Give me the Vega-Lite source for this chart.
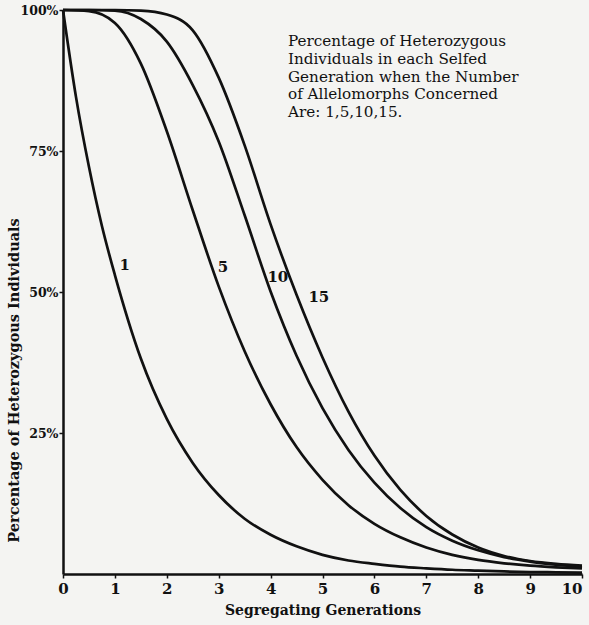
{
  "$schema": "https://vega.github.io/schema/vega-lite/v6.json",
  "autosize": "none",
  "width": 519,
  "height": 564,
  "padding": {"left": 63, "top": 10, "right": 7, "bottom": 51},
  "background": "#f4f4f2",
  "config": {"view": {"stroke": null}},
  "datasets": {
    "curves": [
      {"n": "1", "g": 0, "p": 100}, {"n": "1", "g": 0.25, "p": 84.6}, {"n": "1", "g": 0.5, "p": 72.2}, {"n": "1", "g": 0.75, "p": 61.7},
      {"n": "1", "g": 1, "p": 53}, {"n": "1", "g": 1.5, "p": 38.2}, {"n": "1", "g": 2, "p": 27.5}, {"n": "1", "g": 2.5, "p": 19.7},
      {"n": "1", "g": 3, "p": 14}, {"n": "1", "g": 3.5, "p": 9.8}, {"n": "1", "g": 4, "p": 6.95}, {"n": "1", "g": 4.5, "p": 4.9},
      {"n": "1", "g": 5, "p": 3.4}, {"n": "1", "g": 5.5, "p": 2.4}, {"n": "1", "g": 6, "p": 1.8}, {"n": "1", "g": 6.5, "p": 1.3},
      {"n": "1", "g": 7, "p": 1.0}, {"n": "1", "g": 7.5, "p": 0.75}, {"n": "1", "g": 8, "p": 0.6}, {"n": "1", "g": 8.5, "p": 0.45},
      {"n": "1", "g": 9, "p": 0.35}, {"n": "1", "g": 9.5, "p": 0.3}, {"n": "1", "g": 10, "p": 0.25},
      {"n": "5", "g": 0, "p": 100}, {"n": "5", "g": 0.5, "p": 99.8}, {"n": "5", "g": 1, "p": 97.7}, {"n": "5", "g": 1.5, "p": 90.5},
      {"n": "5", "g": 2, "p": 78.5}, {"n": "5", "g": 2.5, "p": 64.5}, {"n": "5", "g": 3, "p": 51.0}, {"n": "5", "g": 3.5, "p": 39.5},
      {"n": "5", "g": 4, "p": 30.1}, {"n": "5", "g": 4.5, "p": 22.5}, {"n": "5", "g": 5, "p": 16.7}, {"n": "5", "g": 5.5, "p": 12.2},
      {"n": "5", "g": 6, "p": 8.9}, {"n": "5", "g": 6.5, "p": 6.5}, {"n": "5", "g": 7, "p": 4.7}, {"n": "5", "g": 7.5, "p": 3.4},
      {"n": "5", "g": 8, "p": 2.5}, {"n": "5", "g": 8.5, "p": 1.9}, {"n": "5", "g": 9, "p": 1.47}, {"n": "5", "g": 9.5, "p": 1.19},
      {"n": "5", "g": 10, "p": 0.99},
      {"n": "10", "g": 0, "p": 100}, {"n": "10", "g": 0.5, "p": 100}, {"n": "10", "g": 1, "p": 99.9}, {"n": "10", "g": 1.5, "p": 98.4},
      {"n": "10", "g": 2, "p": 94.4}, {"n": "10", "g": 2.5, "p": 86.7}, {"n": "10", "g": 3, "p": 76.7}, {"n": "10", "g": 3.5, "p": 63.6},
      {"n": "10", "g": 4, "p": 50.1}, {"n": "10", "g": 4.5, "p": 38.7}, {"n": "10", "g": 5, "p": 29.4}, {"n": "10", "g": 5.5, "p": 22.0},
      {"n": "10", "g": 6, "p": 16.2}, {"n": "10", "g": 6.5, "p": 11.7}, {"n": "10", "g": 7, "p": 8.3}, {"n": "10", "g": 7.5, "p": 5.9},
      {"n": "10", "g": 8, "p": 4.2}, {"n": "10", "g": 8.5, "p": 3.0}, {"n": "10", "g": 9, "p": 2.2}, {"n": "10", "g": 9.5, "p": 1.65},
      {"n": "10", "g": 10, "p": 1.22},
      {"n": "15", "g": 0, "p": 100}, {"n": "15", "g": 0.5, "p": 100}, {"n": "15", "g": 1, "p": 100}, {"n": "15", "g": 1.5, "p": 99.9},
      {"n": "15", "g": 2, "p": 99.2}, {"n": "15", "g": 2.5, "p": 96.4}, {"n": "15", "g": 3, "p": 88.0}, {"n": "15", "g": 3.5, "p": 76.0},
      {"n": "15", "g": 4, "p": 62.0}, {"n": "15", "g": 4.5, "p": 49.5}, {"n": "15", "g": 5, "p": 38.4}, {"n": "15", "g": 5.5, "p": 28.8},
      {"n": "15", "g": 6, "p": 21.0}, {"n": "15", "g": 6.5, "p": 14.9}, {"n": "15", "g": 7, "p": 10.3}, {"n": "15", "g": 7.5, "p": 7.0},
      {"n": "15", "g": 8, "p": 4.7}, {"n": "15", "g": 8.5, "p": 3.2}, {"n": "15", "g": 9, "p": 2.3}, {"n": "15", "g": 9.5, "p": 1.8},
      {"n": "15", "g": 10, "p": 1.5}
    ],
    "labels": [
      {"label": "1", "g": 1.19, "p": 54.8},
      {"label": "5", "g": 3.08, "p": 54.4},
      {"label": "10", "g": 4.14, "p": 52.7},
      {"label": "15", "g": 4.93, "p": 49.1}
    ],
    "note": [
      {"text": "Percentage of Heterozygous\nIndividuals in each Selfed\nGeneration when the Number\nof Allelomorphs Concerned\nAre: 1,5,10,15.", "g": 4.335, "p": 93.6}
    ]
  },
  "layer": [
    {
      "data": {"name": "curves"},
      "mark": {"type": "line", "interpolate": "monotone", "color": "#111111", "strokeWidth": 2.7},
      "encoding": {
        "x": {
          "field": "g", "type": "quantitative",
          "scale": {"domain": [0, 10], "nice": false},
          "axis": {
            "title": "Segregating Generations",
            "values": [0, 1, 2, 3, 4, 5, 6, 7, 8, 9, 10],
            "grid": false,
            "domainColor": "#111111", "domainWidth": 2.5,
            "tickColor": "#111111", "tickSize": 4, "tickWidth": 1.5,
            "labelFont": "DejaVu Serif", "labelFontWeight": "bold", "labelFontSize": 15, "labelColor": "#111111",
            "labelPadding": 3,
            "labelAlign": {"condition": {"test": "datum.value == 10", "value": "right"}, "value": "center"},
            "titleFont": "DejaVu Serif", "titleFontWeight": "bold", "titleFontSize": 14, "titleColor": "#111111",
            "titleY": 36, "titleBaseline": "middle"
          }
        },
        "y": {
          "field": "p", "type": "quantitative",
          "scale": {"domain": [0, 100], "nice": false},
          "axis": {
            "title": "Percentage of Heterozygous Individuals",
            "values": [25, 50, 75, 100],
            "labelExpr": "datum.value + '%'",
            "grid": false,
            "domainColor": "#111111", "domainWidth": 2.5,
            "tickColor": "#111111", "tickSize": 4, "tickWidth": 1.5,
            "labelFont": "DejaVu Serif", "labelFontWeight": "bold", "labelFontSize": 12.5, "labelColor": "#111111",
            "labelPadding": 1,
            "titleFont": "DejaVu Serif", "titleFontWeight": "bold", "titleFontSize": 14.5, "titleColor": "#111111",
            "titleX": -49, "titleY": 370, "titleAlign": "center", "titleBaseline": "middle", "titleAngle": -90
          }
        },
        "detail": {"field": "n", "type": "nominal"}
      }
    },
    {
      "data": {"name": "labels"},
      "mark": {"type": "text", "font": "DejaVu Serif", "fontWeight": "bold", "fontSize": 15, "color": "#111111", "align": "center", "baseline": "middle"},
      "encoding": {
        "x": {"field": "g", "type": "quantitative"},
        "y": {"field": "p", "type": "quantitative"},
        "text": {"field": "label", "type": "nominal"}
      }
    },
    {
      "data": {"name": "note"},
      "mark": {"type": "text", "font": "DejaVu Serif", "fontSize": 15.2, "lineHeight": 17.8, "lineBreak": "\n", "color": "#111111", "align": "left", "baseline": "alphabetic"},
      "encoding": {
        "x": {"field": "g", "type": "quantitative"},
        "y": {"field": "p", "type": "quantitative"},
        "text": {"field": "text", "type": "nominal"}
      }
    }
  ]
}
